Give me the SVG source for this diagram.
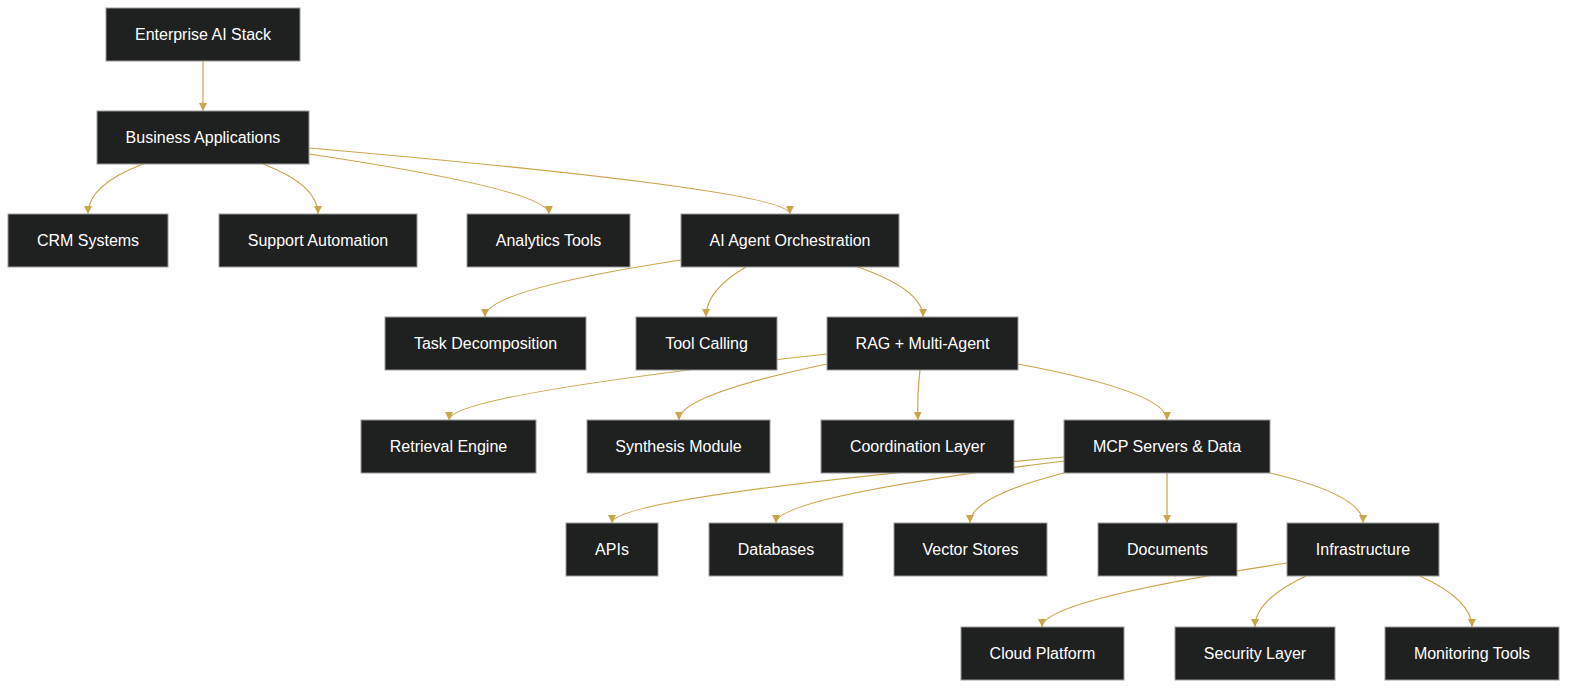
<svg xmlns="http://www.w3.org/2000/svg" width="1581" height="694" viewBox="0 0 1581 694">
<style>
.n rect{fill:#1f2020;stroke:#999;stroke-width:1}
.n text{fill:#fff;font-family:"Liberation Sans",Arial,sans-serif;font-size:16px;text-anchor:middle;dominant-baseline:central}
.e path{fill:none;stroke:#c9a54b;stroke-width:1.2;marker-end:url(#a)}
</style>
<defs><marker id="a" viewBox="0 0 10 10" refX="10" refY="5" markerWidth="8" markerHeight="8" markerUnits="userSpaceOnUse" orient="auto"><path d="M0,0L10,5L0,10z" fill="#c9a54b"/></marker></defs>
<rect width="1581" height="694" fill="#fff"/>
<g id="edges" class="e">
<path d="M203,61 L203,111"/>
<path d="M143,164 Q88,185 88,214"/>
<path d="M263,164 Q318,185 318,214"/>
<path d="M309,154 Q549,190 549,214"/>
<path d="M309,148 Q790,190 790,214"/>
<path d="M681,260 Q485,290 485,317"/>
<path d="M746,267 Q706,290 706,317"/>
<path d="M858,267 Q923,290 923,317"/>
<path d="M827,354 Q449,395 449,420"/>
<path d="M827,364 Q679,395 679,420"/>
<path d="M920,370 Q917,395 918,420"/>
<path d="M1018,364 Q1167,392 1167,420"/>
<path d="M1064,457 Q612,497 612,523"/>
<path d="M1064,461 Q776,497 776,523"/>
<path d="M1064,473 Q970,497 970,523"/>
<path d="M1167,473 L1167,523"/>
<path d="M1270,473 Q1363,495 1363,523"/>
<path d="M1287,563 Q1042,600 1042,627"/>
<path d="M1306,576 Q1255,600 1255,627"/>
<path d="M1420,576 Q1472,600 1472,627"/>
</g>
<g id="n1" class="n"><rect x="106" y="8" width="194" height="53"/><text x="203" y="34.5">Enterprise AI Stack</text></g>
<g id="n2" class="n"><rect x="97" y="111" width="212" height="53"/><text x="203" y="137.5">Business Applications</text></g>
<g id="n3" class="n"><rect x="8" y="214" width="160" height="53"/><text x="88" y="240.5">CRM Systems</text></g>
<g id="n4" class="n"><rect x="219" y="214" width="198" height="53"/><text x="318" y="240.5">Support Automation</text></g>
<g id="n5" class="n"><rect x="467" y="214" width="163" height="53"/><text x="548.5" y="240.5">Analytics Tools</text></g>
<g id="n6" class="n"><rect x="681" y="214" width="218" height="53"/><text x="790" y="240.5">AI Agent Orchestration</text></g>
<g id="n7" class="n"><rect x="385" y="317" width="201" height="53"/><text x="485.5" y="343.5">Task Decomposition</text></g>
<g id="n8" class="n"><rect x="636" y="317" width="141" height="53"/><text x="706.5" y="343.5">Tool Calling</text></g>
<g id="n9" class="n"><rect x="827" y="317" width="191" height="53"/><text x="922.5" y="343.5">RAG + Multi-Agent</text></g>
<g id="n10" class="n"><rect x="361" y="420" width="175" height="53"/><text x="448.5" y="446.5">Retrieval Engine</text></g>
<g id="n11" class="n"><rect x="587" y="420" width="183" height="53"/><text x="678.5" y="446.5">Synthesis Module</text></g>
<g id="n12" class="n"><rect x="821" y="420" width="193" height="53"/><text x="917.5" y="446.5">Coordination Layer</text></g>
<g id="n13" class="n"><rect x="1064" y="420" width="206" height="53"/><text x="1167" y="446.5">MCP Servers &amp; Data</text></g>
<g id="n14" class="n"><rect x="566" y="523" width="92" height="53"/><text x="612" y="549.5">APIs</text></g>
<g id="n15" class="n"><rect x="709" y="523" width="134" height="53"/><text x="776" y="549.5">Databases</text></g>
<g id="n16" class="n"><rect x="894" y="523" width="153" height="53"/><text x="970.5" y="549.5">Vector Stores</text></g>
<g id="n17" class="n"><rect x="1098" y="523" width="139" height="53"/><text x="1167.5" y="549.5">Documents</text></g>
<g id="n18" class="n"><rect x="1287" y="523" width="152" height="53"/><text x="1363" y="549.5">Infrastructure</text></g>
<g id="n19" class="n"><rect x="961" y="627" width="163" height="53"/><text x="1042.5" y="653.5">Cloud Platform</text></g>
<g id="n20" class="n"><rect x="1175" y="627" width="160" height="53"/><text x="1255" y="653.5">Security Layer</text></g>
<g id="n21" class="n"><rect x="1385" y="627" width="174" height="53"/><text x="1472" y="653.5">Monitoring Tools</text></g>
</svg>
